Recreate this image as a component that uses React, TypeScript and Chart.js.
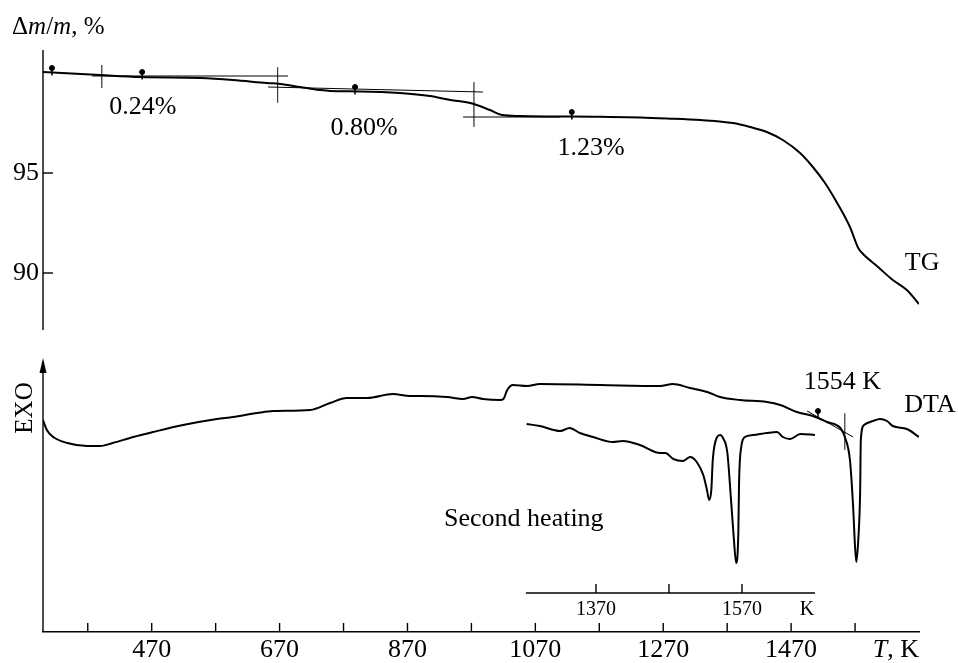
import React, { useEffect, useRef } from "react";
import { Chart, registerables } from "chart.js";
Chart.register(...registerables);

const FONT = '"Liberation Serif", "Times New Roman", serif';

// ---- TG curve (T, K ; Δm/m, %) ----
const tgTemp = [300, 389, 452, 546, 597, 650, 671, 702, 733, 749, 796, 858, 905, 937, 968, 999, 1018, 1046, 1171, 1234, 1276, 1328, 1379, 1406, 1432, 1457, 1484, 1504, 1523, 1542, 1562, 1575, 1581, 1606, 1629, 1651, 1670];
const tgMass = [100.05, 99.9, 99.8, 99.75, 99.65, 99.5, 99.45, 99.3, 99.15, 99.1, 99.08, 99.0, 98.85, 98.65, 98.5, 98.15, 97.9, 97.85, 97.81, 97.78, 97.73, 97.65, 97.5, 97.3, 97.05, 96.65, 96.0, 95.3, 94.5, 93.5, 92.3, 91.25, 91.0, 90.3, 89.65, 89.15, 88.45];

// ---- DTA curve, first heating (arbitrary units) ----
const dtaTemp = [300, 306, 316, 338, 369, 389, 409, 441, 472, 519, 572, 597, 635, 660, 718, 749, 775, 807, 847, 874, 890, 932, 957, 971, 988, 1015, 1020, 1026, 1035, 1057, 1077, 1171, 1265, 1285, 1312, 1339, 1359, 1390, 1432, 1453, 1479, 1504, 1526, 1547, 1554, 1562, 1567, 1570, 1572, 1575, 1578, 1579, 1584, 1598, 1609, 1620, 1629, 1651, 1670];
const dtaSignal = [106, 101, 97.5, 94.5, 93, 93, 94.5, 97.5, 100, 103.5, 106.5, 107.5, 109.5, 110.5, 111, 114.5, 117, 117, 119, 118, 118, 117.5, 116.5, 117.5, 116.5, 116, 116.5, 121, 123.5, 123, 124, 123.5, 123, 124, 122, 120, 117.5, 116, 115, 113.5, 110, 108, 105, 102, 97.5, 86, 62.5, 42.5, 35, 46, 71, 96, 103.5, 105.5, 106.5, 105.5, 103, 101.5, 97.5];

// ---- DTA, second heating (inset temperature axis) ----
const shTemp = [1275, 1293, 1321, 1334, 1348, 1366, 1393, 1407, 1430, 1458, 1465, 1476, 1489, 1499, 1508, 1517, 1522, 1525, 1528, 1530, 1536, 1540, 1544, 1550, 1555, 1559, 1562, 1565, 1566, 1569, 1574, 1585, 1604, 1618, 1626, 1636, 1650, 1670];
const shSignal = [104, 103, 100.5, 102, 99.5, 97.5, 95, 95.5, 93.5, 89.5, 89.5, 86.5, 85.5, 87.5, 85, 78.5, 71, 66, 71, 86, 97.5, 98.5, 97, 89.5, 66, 46, 34.5, 49.5, 74.5, 92.5, 97.5, 98.5, 99.5, 100, 97.5, 96.5, 99, 98.5];

// ---- construction lines (T, value) ----
const tgGuides = [
  [[377, 99.85], [683, 99.85]],
  [[392, 100.4], [392, 99.25]],
  [[667, 100.3], [667, 98.5]],
  [[652, 99.3], [988, 99.05]],
  [[974, 99.55], [974, 97.3]],
  [[957, 97.8], [1109, 97.8]],
];
const dtaGuides = [
  [[1495, 110.5], [1567, 97.5]],
  [[1554, 109.5], [1554, 91]],
];
const tgMarkT = [314, 455, 788, 1127];
const tgMarkV = [100.25, 100.05, 99.3, 98.05];
const tgStemV = [100.08, 99.87, 99.13, 97.88];
const dtaMarkT = [1512];
const dtaMarkV = [110.5];
const dtaStemV = [108.5];

// ---- axes ----
const X_MIN = 300, X_MAX = 1670;
const xTicks = [370, 470, 570, 670, 770, 870, 970, 1070, 1170, 1270, 1370, 1470, 1570];
const xLabeled = [470, 670, 870, 1070, 1270, 1470];
const X2_MIN = 612.5, X2_MAX = 1812.5;
const INSET_MIN = 1274, INSET_MAX = 1670, INSET_LEVEL = 19.5;
const insetTicks = [1370, 1470, 1570];
const insetLabeled = [1370, 1570];
const TG_MIN = 72.05, TG_MAX = 101.15, TG_AXIS_BOTTOM = 87.15;
const tgTicks = [90, 95];
const DTA_MIN = 0, DTA_MAX = 291, DTA_AXIS_TOP = 137;

// ---- text annotations ----
const tgLabels = ["0.24%", "0.80%", "1.23%", "TG"];
const tgLabelT = [456, 802, 1157, 1675];
const tgLabelV = [98.3, 97.25, 96.25, 90.5];
const dtaLabels = ["1554 K", "DTA", "Second heating"];
const dtaLabelT = [1550, 1687, 1052];
const dtaLabelV = [125, 113.5, 56.5];

const pts = (xs: number[], ys: number[]) => xs.map((v, i) => ({ x: v, y: ys[i] }));

const decor = {
  id: "decor",
  afterDraw(chart: any) {
    const { ctx, chartArea, scales } = chart;
    const x = scales.x, x2 = scales.x2, yTG = scales.yTG, yDTA = scales.yDTA;
    const L = chartArea.left;
    const TICK = 9;
    ctx.save();
    ctx.strokeStyle = "#000";
    ctx.fillStyle = "#000";
    ctx.lineWidth = 1.4;
    const line = (a: number, b: number, c: number, d: number) => {
      ctx.beginPath(); ctx.moveTo(a, b); ctx.lineTo(c, d); ctx.stroke();
    };
    // TG axis
    line(L, yTG.getPixelForValue(TG_MAX), L, yTG.getPixelForValue(TG_AXIS_BOTTOM));
    yTG.ticks.forEach((t: any) => { const p = yTG.getPixelForValue(t.value); line(L, p, L + TICK + 1, p); });
    // DTA axis with arrow
    const top = yDTA.getPixelForValue(DTA_AXIS_TOP);
    const bot = yDTA.getPixelForValue(DTA_MIN);
    line(L, bot, L, top + 10);
    ctx.beginPath(); ctx.moveTo(L, top); ctx.lineTo(L - 3.5, top + 15); ctx.lineTo(L + 3.5, top + 15); ctx.closePath(); ctx.fill();
    // main x ticks (inward)
    x.ticks.forEach((t: any) => { const p = x.getPixelForValue(t.value); line(p, x.top, p, x.top - TICK); });
    // inset axis
    const iy = yDTA.getPixelForValue(INSET_LEVEL);
    line(x2.getPixelForValue(INSET_MIN), iy, x2.getPixelForValue(INSET_MAX), iy);
    x2.ticks.forEach((t: any) => { const p = x2.getPixelForValue(t.value); line(p, iy, p, iy - TICK); });

    ctx.textBaseline = "middle";
    ctx.textAlign = "center";
    ctx.font = `20px ${FONT}`;
    ctx.fillText("K", x2.getPixelForValue(INSET_MAX) - 8, iy + 17);

    ctx.font = `26px ${FONT}`;
    tgLabels.forEach((s, i) => ctx.fillText(s, x.getPixelForValue(tgLabelT[i]), yTG.getPixelForValue(tgLabelV[i])));
    dtaLabels.forEach((s, i) => ctx.fillText(s, x.getPixelForValue(dtaLabelT[i]), yDTA.getPixelForValue(dtaLabelV[i])));

    // T, K
    ctx.textAlign = "left";
    const ty = x.top + 18;
    const kw = ctx.measureText(", K").width;
    ctx.fillText(", K", x.right - kw, ty);
    ctx.font = `italic 26px ${FONT}`;
    const tw = ctx.measureText("T").width;
    ctx.fillText("T", x.right - kw - tw, ty);

    // Δm/m, %
    let cx = 12;
    const cy = 27;
    const parts: [string, boolean][] = [["Δ", false], ["m", true], ["/", false], ["m", true], [", %", false]];
    parts.forEach(([s, it]) => {
      ctx.font = `${it ? "italic " : ""}25px ${FONT}`;
      ctx.fillText(s, cx, cy);
      cx += ctx.measureText(s).width;
    });

    // EXO
    ctx.save();
    ctx.translate(25, yDTA.getPixelForValue(112));
    ctx.rotate(-Math.PI / 2);
    ctx.textAlign = "center";
    ctx.font = `25px ${FONT}`;
    ctx.fillText("EXO", 0, 0);
    ctx.restore();
    ctx.restore();
  },
};

export default function App() {
  const ref = useRef<HTMLCanvasElement>(null);
  useEffect(() => {
    document.body.style.margin = "0";
    Chart.defaults.font.family = FONT;
    Chart.defaults.color = "#000";
    const line = (data: any[], xa: string, ya: string, w: number) => ({
      data, xAxisID: xa, yAxisID: ya, showLine: true, borderColor: "#000", borderWidth: w,
      pointRadius: 0, cubicInterpolationMode: "monotone" as const,
    });
    const dot = (data: any[], ya: string) => ({
      data, xAxisID: "x", yAxisID: ya, showLine: false, pointRadius: 2.5,
      pointBackgroundColor: "#000", pointBorderColor: "#000",
    });
    const stem = (data: any[], ya: string) => ({
      data, xAxisID: "x", yAxisID: ya, showLine: false, pointStyle: "line", pointRotation: 90,
      pointRadius: 4, pointBorderWidth: 1.5, pointBorderColor: "#000",
    });
    const datasets: any[] = [
      { label: "TG", ...line(pts(tgTemp, tgMass), "x", "yTG", 2) },
      { label: "DTA", ...line(pts(dtaTemp, dtaSignal), "x", "yDTA", 2) },
      { label: "Second heating", ...line(pts(shTemp, shSignal), "x2", "yDTA", 2) },
      ...tgGuides.map((s) => line(s.map(([t, v]) => ({ x: t, y: v })), "x", "yTG", 1)),
      ...dtaGuides.map((s) => line(s.map(([t, v]) => ({ x: t, y: v })), "x", "yDTA", 1)),
      dot(pts(tgMarkT, tgMarkV), "yTG"),
      stem(pts(tgMarkT, tgStemV), "yTG"),
      dot(pts(dtaMarkT, dtaMarkV), "yDTA"),
      stem(pts(dtaMarkT, dtaStemV), "yDTA"),
    ];
    const chart = new Chart(ref.current!, {
      type: "scatter",
      data: { datasets },
      plugins: [decor],
      options: {
        animation: false,
        responsive: false,
        layout: { padding: { top: 50, right: 39, bottom: 0, left: 0 } },
        plugins: { legend: { display: false }, tooltip: { enabled: false } },
        scales: {
          x: {
            type: "linear", axis: "x", position: "bottom", min: X_MIN, max: X_MAX,
            grid: { display: false, drawTicks: false },
            border: { display: true, color: "#000", width: 1.4 },
            afterBuildTicks: (s: any) => { s.ticks = xTicks.map((v) => ({ value: v })); },
            afterFit: (s: any) => { s.height = 31; },
            ticks: {
              autoSkip: false, maxRotation: 0, padding: 3, font: { size: 26, family: FONT }, color: "#000",
              callback: (v: any) => (xLabeled.includes(Number(v)) ? String(v) : ""),
            },
          },
          x2: {
            type: "linear", axis: "x", position: { yDTA: INSET_LEVEL } as any, min: X2_MIN, max: X2_MAX,
            grid: { display: false, drawTicks: false },
            border: { display: false },
            afterBuildTicks: (s: any) => { s.ticks = insetTicks.map((v) => ({ value: v })); },
            ticks: {
              autoSkip: false, maxRotation: 0, padding: 5, font: { size: 20, family: FONT }, color: "#000",
              callback: (v: any) => (insetLabeled.includes(Number(v)) ? String(v) : ""),
            },
          },
          yTG: {
            type: "linear", axis: "y", position: "left", min: TG_MIN, max: TG_MAX,
            grid: { display: false, drawTicks: false },
            border: { display: false },
            afterBuildTicks: (s: any) => { s.ticks = tgTicks.map((v) => ({ value: v })); },
            afterFit: (s: any) => { s.width = 43; },
            ticks: { padding: 4, font: { size: 26, family: FONT }, color: "#000" },
          },
          yDTA: {
            type: "linear", axis: "y", position: "left", min: DTA_MIN, max: DTA_MAX, display: false,
          },
        },
      } as any,
    });
    return () => chart.destroy();
  }, []);
  return <canvas ref={ref} width={958} height={663} style={{ display: "block" }} />;
}
